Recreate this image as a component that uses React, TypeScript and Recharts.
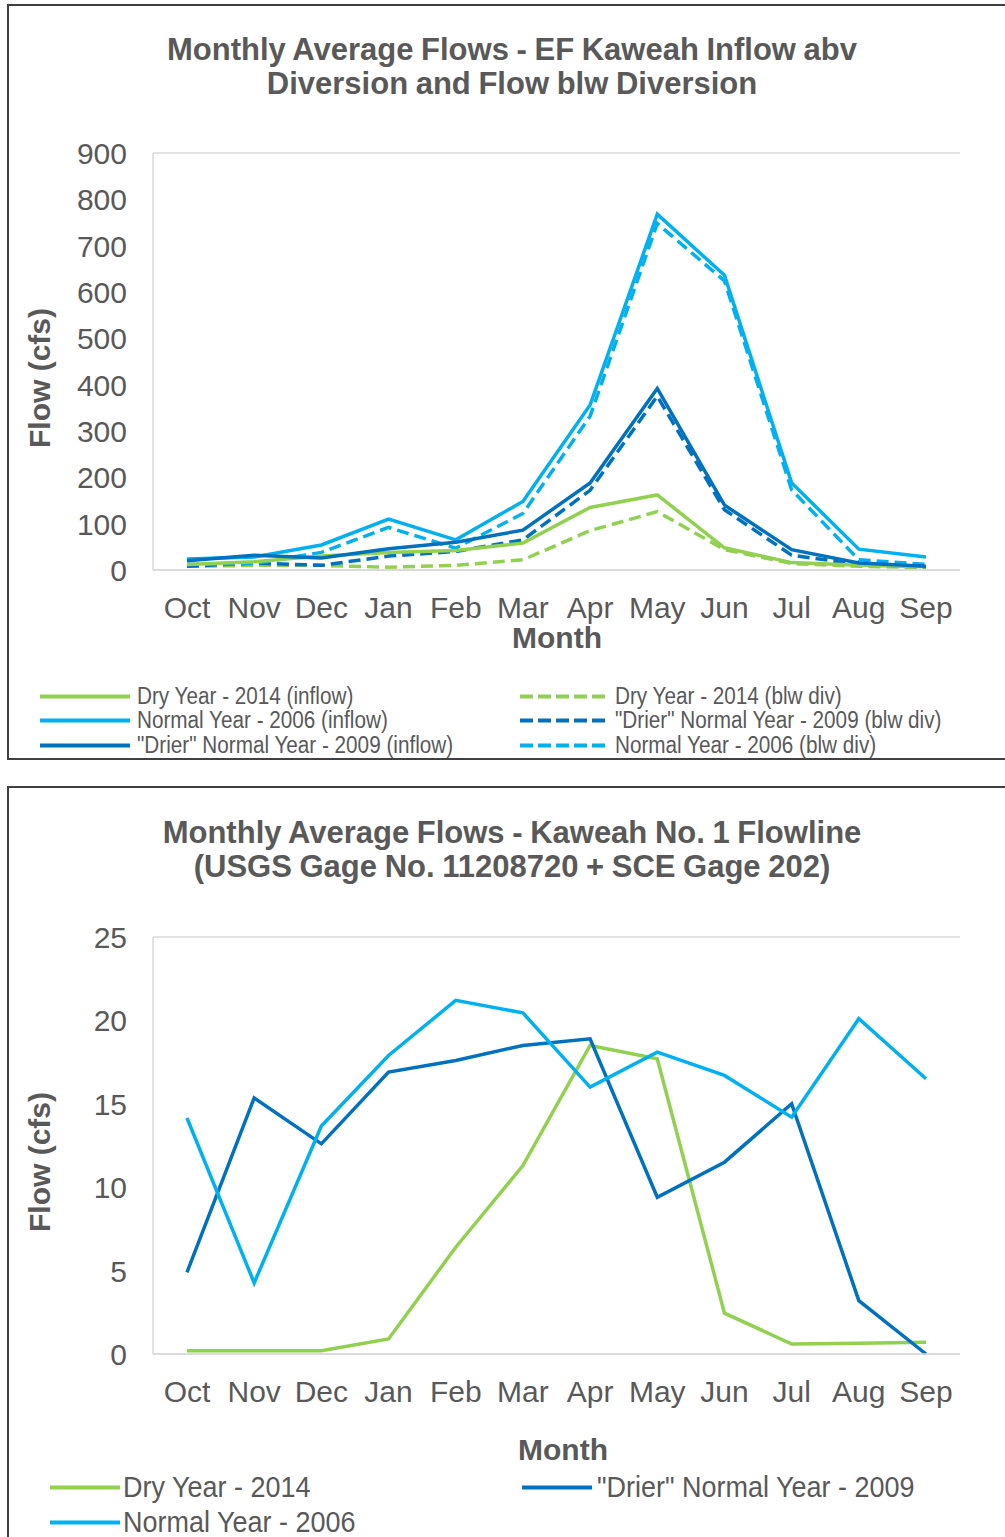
import React from "react";
import { LineChart, Line, XAxis, YAxis, CartesianGrid } from "recharts";

const months = ["Oct", "Nov", "Dec", "Jan", "Feb", "Mar", "Apr", "May", "Jun", "Jul", "Aug", "Sep"];

// top chart (cfs)
const dryInflow = [12, 18, 30, 38, 42, 58, 135, 162, 48, 16, 10, 7];
const dryBlw = [8, 10, 10, 6, 10, 22, 85, 126, 44, 14, 8, 5];
const normalInflow = [24, 28, 54, 110, 65, 148, 356, 768, 636, 188, 45, 28];
const normalBlw = [12, 14, 38, 92, 47, 122, 332, 748, 624, 173, 22, 12];
const drierInflow = [20, 32, 26, 46, 60, 86, 188, 392, 140, 44, 15, 8];
const drierBlw = [8, 15, 10, 30, 40, 65, 172, 375, 130, 32, 12, 7];
const topTicks = [0, 100, 200, 300, 400, 500, 600, 700, 800, 900];

// bottom chart (cfs)
const dry2014 = [0.2, 0.2, 0.2, 0.9, 6.4, 11.3, 18.5, 17.7, 2.45, 0.6, 0.65, 0.7];
const drier2009 = [4.9, 15.35, 12.6, 16.9, 17.6, 18.5, 18.9, 9.4, 11.5, 15.0, 3.2, 0];
const normal2006 = [14.15, 4.26, 13.67, 17.9, 21.2, 20.45, 16.0, 18.1, 16.7, 14.2, 20.1, 16.5];
const bottomTicks = [0, 5, 10, 15, 20, 25];

const GREEN = "#92D050";
const LIGHT = "#00B0F0";
const DARK = "#0070C0";
const TEXT = "#595959";
const FONT = "'Liberation Sans', Arial, sans-serif";

const topData = months.map((m, i) => ({
  month: m,
  dryInflow: dryInflow[i],
  dryBlw: dryBlw[i],
  normalInflow: normalInflow[i],
  normalBlw: normalBlw[i],
  drierInflow: drierInflow[i],
  drierBlw: drierBlw[i],
}));

const bottomData = months.map((m, i) => ({
  month: m,
  dry: dry2014[i],
  drier: drier2009[i],
  normal: normal2006[i],
}));

const YTick = (props: any) => (
  <text x={props.x} y={props.y} dy={11} textAnchor="end" fill={TEXT} fontSize={30} fontFamily={FONT}>
    {props.payload.value}
  </text>
);

const XTick = (props: any) => (
  <text x={props.x} y={props.y} dy={48} textAnchor="middle" fill={TEXT} fontSize={30} fontFamily={FONT}>
    {props.payload.value}
  </text>
);

const abs = (left: number, top: number, extra: any = {}) => ({
  position: "absolute" as const,
  left,
  top,
  fontFamily: FONT,
  color: TEXT,
  whiteSpace: "nowrap" as const,
  ...extra,
});

function Title({ lines, top }: { lines: string[]; top: number }) {
  return (
    <div
      style={abs(0, top, {
        width: 1024,
        textAlign: "center",
        fontSize: 31,
        fontWeight: "bold",
        lineHeight: "34px",
        wordSpacing: -1,
      })}
    >
      {lines.map((l, i) => (
        <div key={i}>{l}</div>
      ))}
    </div>
  );
}

function AxisTitles({ top, monthX, monthY }: { top: number; monthX: number; monthY: number }) {
  return (
    <>
      <div
        style={abs(40, top + 378, {
          fontSize: 30,
          fontWeight: "bold",
          transform: "translate(-50%, -50%) rotate(-90deg)",
        })}
      >
        Flow (cfs)
      </div>
      <div
        style={abs(monthX, top + monthY, {
          fontSize: 30,
          fontWeight: "bold",
          transform: "translate(-50%, -50%)",
        })}
      >
        Month
      </div>
    </>
  );
}

function LegendItem({
  x, y, lineW, gap, color, dashed, label, size, scale,
}: {
  x: number; y: number; lineW: number; gap: number; color: string; dashed?: boolean;
  label: string; size: number; scale: number;
}) {
  return (
    <div style={abs(x, y, { display: "flex", alignItems: "center", transform: "translateY(-50%)" })}>
      <svg width={lineW} height={6} style={{ display: "block" }}>
        <line
          x1={0} y1={3} x2={lineW} y2={3}
          stroke={color} strokeWidth={4}
          strokeDasharray={dashed ? "13 5" : undefined}
        />
      </svg>
      <span
        style={{
          marginLeft: gap,
          fontSize: size,
          display: "inline-block",
          transform: `scaleX(${scale})`,
          transformOrigin: "left center",
        }}
      >
        {label}
      </span>
    </div>
  );
}

function plotAxes(ticks: number[], max: number) {
  return [
    <CartesianGrid key="g" stroke="#d9d9d9" strokeWidth={1.5} vertical={false} />,
    <XAxis
      key="x"
      dataKey="month"
      height={30}
      padding={{ left: 34, right: 34 }}
      axisLine={{ stroke: "#d9d9d9", strokeWidth: 1.5 }}
      tickLine={false}
      tickSize={0}
      tickMargin={0}
      interval={0}
      tick={<XTick />}
    />,
    <YAxis
      key="y"
      yAxisId="l"
      domain={[0, max]}
      ticks={ticks}
      width={60}
      axisLine={{ stroke: "#d9d9d9", strokeWidth: 1.5 }}
      tickLine={false}
      tickSize={0}
      tickMargin={26}
      interval={0}
      tick={<YTick />}
    />,
    <YAxis
      key="r"
      yAxisId="r"
      orientation="right"
      domain={[0, max]}
      width={0}
      axisLine={{ stroke: "#d9d9d9", strokeWidth: 1.5 }}
      tickLine={false}
      tick={false}
    />,
  ];
}

const MARGIN = { top: 153, right: 45, bottom: 160, left: 93 };

export default function App() {
  return (
    <div
      style={{
        position: "absolute",
        left: 0,
        top: 0,
        width: 1005,
        height: 1537,
        overflow: "hidden",
        background: "#fff",
      }}
    >
      {/* panel frames */}
      <div style={{ position: "absolute", left: 7, top: 4, width: 1010, height: 756, border: "2px solid #404040", boxSizing: "border-box" }} />
      <div style={{ position: "absolute", left: 7, top: 786, width: 1010, height: 800, border: "2px solid #404040", boxSizing: "border-box" }} />

      {/* top chart */}
      <div style={{ position: "absolute", left: 0, top: 0 }}>
        <LineChart width={1005} height={760} data={topData} margin={MARGIN}>
          {plotAxes(topTicks, 900)}
          <Line yAxisId="l" dataKey="dryBlw" stroke={GREEN} strokeWidth={3.5} strokeDasharray="12 6" dot={false} isAnimationActive={false} />
          <Line yAxisId="l" dataKey="drierBlw" stroke={DARK} strokeWidth={3.5} strokeDasharray="12 6" dot={false} isAnimationActive={false} />
          <Line yAxisId="l" dataKey="normalBlw" stroke={LIGHT} strokeWidth={3.5} strokeDasharray="12 6" dot={false} isAnimationActive={false} />
          <Line yAxisId="l" dataKey="dryInflow" stroke={GREEN} strokeWidth={3.5} dot={false} isAnimationActive={false} />
          <Line yAxisId="l" dataKey="normalInflow" stroke={LIGHT} strokeWidth={3.5} dot={false} isAnimationActive={false} />
          <Line yAxisId="l" dataKey="drierInflow" stroke={DARK} strokeWidth={3.5} dot={false} isAnimationActive={false} />
        </LineChart>
      </div>
      <Title top={33} lines={["Monthly Average Flows - EF Kaweah Inflow abv", "Diversion and Flow blw Diversion"]} />
      <AxisTitles top={0} monthX={557} monthY={638} />
      <LegendItem x={40} y={696} lineW={90} gap={7} color={GREEN} label="Dry Year - 2014 (inflow)" size={23} scale={0.9} />
      <LegendItem x={40} y={720} lineW={90} gap={7} color={LIGHT} label="Normal Year - 2006 (inflow)" size={23} scale={0.9} />
      <LegendItem x={40} y={745} lineW={90} gap={7} color={DARK} label={'"Drier" Normal Year - 2009 (inflow)'} size={23} scale={0.9} />
      <LegendItem x={520} y={696} lineW={88} gap={7} color={GREEN} dashed label="Dry Year - 2014 (blw div)" size={23} scale={0.9} />
      <LegendItem x={520} y={720} lineW={88} gap={7} color={DARK} dashed label={'"Drier" Normal Year - 2009 (blw div)'} size={23} scale={0.9} />
      <LegendItem x={520} y={745} lineW={88} gap={7} color={LIGHT} dashed label="Normal Year - 2006 (blw div)" size={23} scale={0.9} />

      {/* bottom chart */}
      <div style={{ position: "absolute", left: 0, top: 784 }}>
        <LineChart width={1005} height={760} data={bottomData} margin={MARGIN}>
          {plotAxes(bottomTicks, 25)}
          <Line yAxisId="l" dataKey="dry" stroke={GREEN} strokeWidth={3.5} dot={false} isAnimationActive={false} />
          <Line yAxisId="l" dataKey="drier" stroke={DARK} strokeWidth={3.5} dot={false} isAnimationActive={false} />
          <Line yAxisId="l" dataKey="normal" stroke={LIGHT} strokeWidth={3.5} dot={false} isAnimationActive={false} />
        </LineChart>
      </div>
      <Title top={816} lines={["Monthly Average Flows - Kaweah No. 1 Flowline", "(USGS Gage No. 11208720 + SCE Gage 202)"]} />
      <AxisTitles top={784} monthX={563} monthY={666} />
      <LegendItem x={50} y={1487} lineW={70} gap={3} color={GREEN} label="Dry Year - 2014" size={29} scale={0.93} />
      <LegendItem x={50} y={1522} lineW={70} gap={3} color={LIGHT} label="Normal Year - 2006" size={29} scale={0.93} />
      <LegendItem x={522} y={1487} lineW={70} gap={5} color={DARK} label={'"Drier" Normal Year - 2009'} size={29} scale={0.93} />
    </div>
  );
}
